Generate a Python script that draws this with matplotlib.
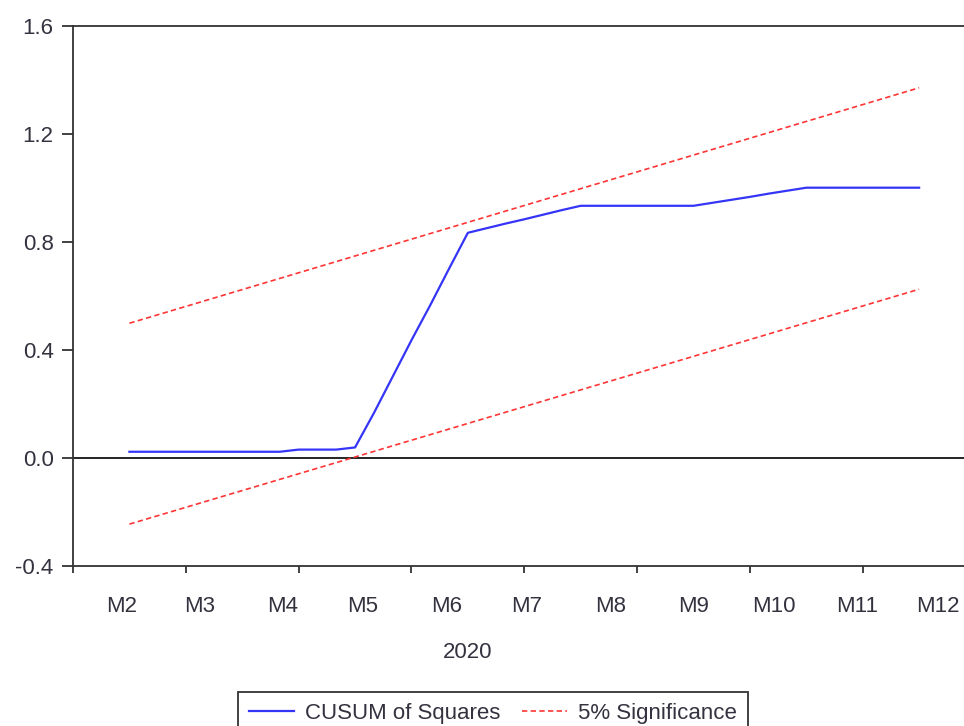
import pandas as pd
import matplotlib.pyplot as plt
import matplotlib.dates as mdates
from matplotlib.ticker import FixedLocator, FixedFormatter, MultipleLocator, FormatStrFormatter

plt.rcParams['font.family'] = ['Liberation Sans', 'DejaVu Sans']
text_color = '#34323f'
fsize = 16

# weekly sample, 2020
weeks = pd.date_range('2020-01-29', periods=46, freq='7D')

# recursive CUSUM of squares (first 3 obs lost to the regressors)
cusum_sq = [0.022, 0.022, 0.022, 0.022, 0.022, 0.022, 0.022, 0.022, 0.022,
            0.030, 0.030, 0.030, 0.038,
            0.165, 0.300, 0.435, 0.565, 0.700, 0.833,
            0.850, 0.867, 0.883, 0.900, 0.917, 0.933,
            0.933, 0.933, 0.933, 0.933, 0.933, 0.933,
            0.944, 0.955, 0.966, 0.978, 0.989, 1.000,
            1.000, 1.000, 1.000, 1.000, 1.000, 1.000]
cusum_dates = weeks[3:]

# 5% significance bands (straight lines between first and last obs)
band_dates = [weeks[3], weeks[-1]]
band_upper = [0.498, 1.370]
band_lower = [-0.246, 0.624]

month_labels = ['M2', 'M3', 'M4', 'M5', 'M6', 'M7', 'M8', 'M9', 'M10', 'M11', 'M12']
month_mids = pd.date_range('2020-02-01', periods=11, freq='MS') + pd.Timedelta(days=15)

fig = plt.figure(figsize=(9.64, 7.26), dpi=100)
ax = fig.add_axes([73 / 964, 160.3 / 726, 1.0 - 73 / 964 + 0.01, (700.3 - 160.3) / 726])

blue = '#3535f8'
red = '#ff3535'
ax.plot(cusum_dates, cusum_sq, color=blue, lw=1.6, label='CUSUM of Squares')
ax.plot(band_dates, band_upper, color=red, lw=1.2, dashes=(3.2, 2.0), label='5% Significance')
ax.plot(band_dates, band_lower, color=red, lw=1.2, dashes=(3.2, 2.0))
ax.axhline(0, color='black', lw=1.2, zorder=1)

ax.set_ylim(-0.4, 1.6)
ax.set_xlim(weeks[0], weeks[0] + pd.Timedelta(days=7 * 47.9))

ax.yaxis.set_major_locator(MultipleLocator(0.4))
ax.yaxis.set_major_formatter(FormatStrFormatter('%.1f'))

# unlabeled ticks every six weeks, month names in between
ax.xaxis.set_major_locator(FixedLocator(mdates.date2num(weeks[::6])))
ax.xaxis.set_major_formatter(FixedFormatter([''] * len(weeks[::6])))
ax.xaxis.set_minor_locator(FixedLocator(mdates.date2num(month_mids)))
ax.xaxis.set_minor_formatter(FixedFormatter(month_labels))

for side in ['left', 'top', 'bottom']:
    ax.spines[side].set_color('#333333')
    ax.spines[side].set_linewidth(1.3)
ax.spines['right'].set_visible(False)

ax.tick_params(axis='y', direction='out', length=8, width=1.3, color='#333333',
               labelsize=fsize, labelcolor=text_color, pad=6)
ax.tick_params(axis='x', which='major', direction='out', length=5, width=1.3, color='#333333')
ax.tick_params(axis='x', which='minor', length=0, labelsize=fsize, labelcolor=text_color, pad=22)

fig.text(468 / 964, 1 - 653 / 726, '2020', ha='center', va='center',
         fontsize=fsize, color=text_color)

handles, labels = ax.get_legend_handles_labels()
leg = fig.legend(handles, labels, loc='upper left', bbox_to_anchor=(238 / 964, 1 - 691.5 / 726),
                 ncol=2, frameon=True, fancybox=False, edgecolor='black', fontsize=fsize,
                 borderaxespad=0, handlelength=2.0, handletextpad=0.5, columnspacing=1.0,
                 borderpad=0.5, labelcolor=text_color)
leg.get_frame().set_linewidth(1.3)

fig.savefig('out.png', dpi=100)
